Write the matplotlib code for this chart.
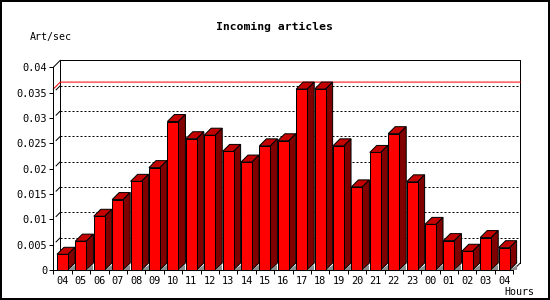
import matplotlib
matplotlib.use('Agg')
import matplotlib.pyplot as plt
from matplotlib.patches import Polygon, Rectangle
from matplotlib.ticker import FixedLocator, FixedFormatter

# ---- data ----
hours = ['04', '05', '06', '07', '08', '09', '10', '11', '12', '13', '14', '15', '16',
         '17', '18', '19', '20', '21', '22', '23', '00', '01', '02', '03', '04']
rates = [0.0031, 0.0057, 0.0106, 0.0139, 0.0175, 0.0202, 0.0293, 0.0259, 0.0266,
         0.0234, 0.0213, 0.0245, 0.0255, 0.0357, 0.0357, 0.0245, 0.0164, 0.0232,
         0.0269, 0.0174, 0.0090, 0.0058, 0.0037, 0.0064, 0.0044]
yticks = [0, 0.005, 0.01, 0.015, 0.02, 0.025, 0.03, 0.035, 0.04]
ytick_labels = ['0', '0.005', '0.01', '0.015', '0.02', '0.025', '0.03', '0.035', '0.04']
title = 'Incoming articles'
ylabel = 'Art/sec'
xlabel = 'Hours'

W, H = 550, 300
PX = 72.0 / 100.0  # points per pixel
FONT = 'DejaVu Sans Mono'

fig = plt.figure(figsize=(W / 100, H / 100), dpi=100)
ax = fig.add_axes([53.3 / W, 30 / H, 460 / W, (270 - 67.3) / H])
n = len(rates)
ax.set_xlim(-0.5, n - 0.5)
ax.set_ylim(0, 0.04)
for s in ('top', 'right'):
    ax.spines[s].set_visible(False)
for s in ('left', 'bottom'):
    ax.spines[s].set_linewidth(1.0 * PX)
    ax.spines[s].set_zorder(6)

# depth offsets (pixels -> data units)
DEPTH = 7.0
ddx = DEPTH * (n / ax.bbox.width)
ddy = DEPTH * (0.04 / ax.bbox.height)

# back wall outline (left, top, right) + connecting diagonals
x0, x1 = -0.5, n - 0.5
ax.plot([x0 + ddx, x0 + ddx, x1 + ddx, x1 + ddx], [ddy, 0.04 + ddy, 0.04 + ddy, ddy],
        color='black', lw=1.0 * PX, clip_on=False, zorder=1)
ax.plot([x0, x0 + ddx], [0.04, 0.04 + ddy], color='black', lw=1.0 * PX, clip_on=False, zorder=1)
ax.plot([x1, x1 + ddx], [0, ddy], color='black', lw=1.0 * PX, clip_on=False, zorder=1)

# dotted grid on back wall
for v in yticks[1:-1]:
    ax.plot([x0 + ddx, x1 + ddx], [v + ddy, v + ddy], color='black', lw=1.0 * PX,
            linestyle=(0, (2, 2)), clip_on=False, zorder=1)
    ax.plot([x0 + 0.4 * ddx, x0 + ddx], [v + 0.4 * ddy, v + ddy], color='black',
            lw=1.0 * PX, clip_on=False, zorder=1)

# red max line
m = max(rates)
ax.plot([x0, x0 + ddx, x1 + ddx], [m, m + ddy, m + ddy], color='#ff0000', lw=1.0 * PX,
        clip_on=False, zorder=1.5)

# bars
bw = 0.6
xs = list(range(n))
ax.bar(xs, rates, width=bw, color='#ff0000', edgecolor='black', linewidth=1.0 * PX, zorder=4)
for i, v in enumerate(rates):
    l, r = i - bw / 2, i + bw / 2
    top = Polygon([(l, v), (l + ddx, v + ddy), (r + ddx, v + ddy), (r, v)], closed=True,
                  facecolor='#c40000', edgecolor='black', lw=1.0 * PX, zorder=3, clip_on=False)
    side = Polygon([(r, 0), (r + ddx, ddy), (r + ddx, v + ddy), (r, v)], closed=True,
                   facecolor='#800000', edgecolor='black', lw=1.0 * PX, zorder=3, clip_on=False)
    ax.add_patch(top)
    ax.add_patch(side)
    shade = Polygon([(r, 0), (r + ddx, 0), (r + ddx, 0.65 * ddy)], closed=True,
                    facecolor='#8c8c8c', edgecolor='none', zorder=3.5, clip_on=False)
    ax.add_patch(shade)

# ticks
ax.yaxis.set_major_locator(FixedLocator(yticks))
ax.yaxis.set_major_formatter(FixedFormatter(ytick_labels))
ax.xaxis.set_major_locator(FixedLocator([i - 0.5 for i in range(n + 1)]))
ax.xaxis.set_major_formatter(FixedFormatter([''] * (n + 1)))
ax.xaxis.set_minor_locator(FixedLocator(xs))
ax.xaxis.set_minor_formatter(FixedFormatter(hours))
ax.tick_params(axis='y', which='major', direction='out', length=4 * PX, width=1.0 * PX,
               pad=2 * PX, labelsize=7.4)
ax.tick_params(axis='x', which='major', direction='out', length=4 * PX, width=1.0 * PX)
ax.tick_params(axis='x', which='minor', length=0, pad=6 * PX, labelsize=7.4)
for lab in ax.get_yticklabels() + ax.get_xticklabels(minor=True):
    lab.set_family(FONT)
ax.set_facecolor('none')

# texts
fig.text(274.5 / W, 1 - 26.5 / H, title, ha='center', va='center', family=FONT,
         fontweight='bold', fontsize=8.2)
fig.text(30 / W, 1 - 36.8 / H, ylabel, ha='left', va='center', family=FONT, fontsize=7.2)
fig.text(504 / W, 1 - 292 / H, xlabel, ha='left', va='center', family=FONT, fontsize=7.2)

# frame
fig.add_artist(Rectangle((1 / W, 1 / H), (W - 2) / W, (H - 2) / H, transform=fig.transFigure,
                         fill=False, edgecolor='black', lw=2 * PX))

fig.savefig('out.png', dpi=100)
